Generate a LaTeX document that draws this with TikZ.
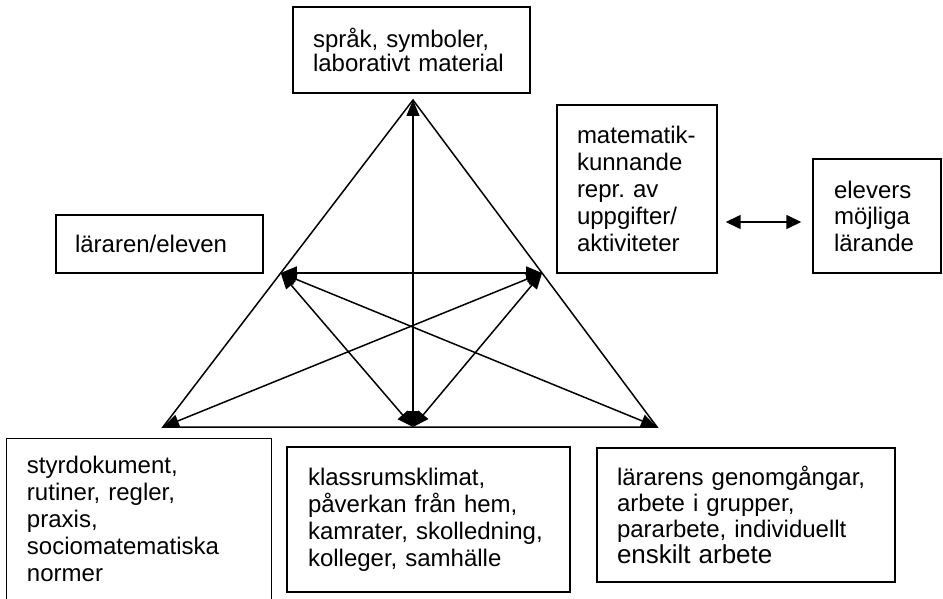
\documentclass[tikz,border=0pt]{standalone}
\usepackage{fontspec}
\setmainfont{Liberation Sans}
\usetikzlibrary{arrows.meta,calc}
\frenchspacing
\begin{document}
\begin{tikzpicture}[x=1pt,y=-1pt,
  box/.style={draw, line width=1.4pt, align=left, inner ysep=0pt,
    font=\fontsize{24}{27}\selectfont\frenchspacing},
  edge/.style={line width=1.5pt},
  dbl/.style={line width=1.5pt, {Triangle[length=16pt,width=13pt]}-{Triangle[length=16pt,width=13pt]}},
  dblh/.style={line width=1.5pt, {Triangle[length=15pt,width=14pt]}-{Triangle[length=15pt,width=14pt]}}]
\useasboundingbox (0,0) rectangle (943,599);
\clip (0,0) rectangle (943,599);
% boxes
\node[box, minimum width=237pt, minimum height=86pt, inner xsep=20pt, text width=197pt,
  font=\fontsize{24}{24}\selectfont] (top) at (411.5,50) {språk, symboler,\\laborativt material};
\node[box, minimum width=207pt, minimum height=58pt, inner xsep=19pt, text width=169pt] (lar) at (159.5,244) {läraren/eleven};
\node[box, minimum width=160pt, minimum height=168pt, inner xsep=20pt, text width=120pt] (mat) at (637,189)
  {matematik-\\kunnande\\repr. av\\uppgifter/\\aktiviteter};
\node[box, minimum width=128pt, minimum height=114pt, inner xsep=21pt, text width=86pt,
  font=\fontsize{24}{26.5}\selectfont] (elev) at (877,216) {elevers\\möjliga\\lärande};
\node[box, draw=none, minimum width=264pt, minimum height=160pt, inner xsep=20pt, text width=224pt] (bl) at (139,519)
  {styrdokument,\\rutiner, regler,\\praxis,\\sociomatematiska\\normer};
\draw[line width=1.4pt] (bl.south west) -- (bl.north west) -- (bl.north east) -- (bl.south east);
\node[box, minimum width=283pt, minimum height=145pt, inner xsep=21pt, text width=241pt] (bm) at (428.5,519.5)
  {klassrumsklimat,\\påverkan från hem,\\kamrater, skolledning,\\kolleger, samhälle\\[4pt]};
\node[box, minimum width=298pt, minimum height=134pt, inner xsep=20pt, text width=258pt,
  font=\fontsize{24}{26}\selectfont] (br) at (746,515)
  {lärarens genomgångar,\\arbete i grupper,\\pararbete, individuellt\\{\fontsize{26}{30}\selectfont enskilt arbete}};
% triangle
\coordinate (A) at (413,100);
\coordinate (L) at (163,427);
\coordinate (R) at (657,427);
\coordinate (B) at (413,427);
\coordinate (LM) at ($(L)!0.471!(A)$);
\coordinate (RM) at ($(R)!0.471!(A)$);
\draw[edge] (L) -- (A) -- (R) -- cycle;
\draw[dbl] (B) -- (A);
\draw[dbl] (LM) -- (RM);
\draw[dbl] (LM) -- (B);
\draw[dbl] (RM) -- (B);
\draw[dbl] (LM) -- (R);
\draw[dbl] (RM) -- (L);
% double arrow
\draw[dblh] ($(mat.east)+(8,33)$) -- ($(elev.west)+(-11,6)$);
\end{tikzpicture}
\end{document}
